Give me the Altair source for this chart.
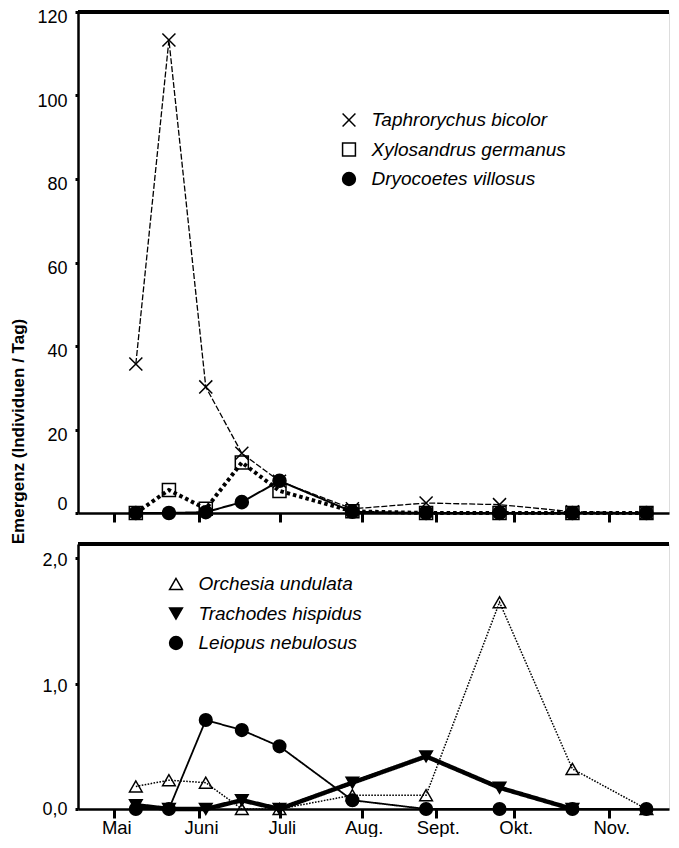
import altair as alt
import pandas as pd

# sampling dates (day of year)
days = [129.0, 141.3, 155.0, 168.4, 182.4, 209.5, 236.9, 264.2, 291.3, 318.8]

# top panel
top_series = ["Taphrorychus bicolor", "Xylosandrus germanus", "Dryocoetes villosus"]
taphrorychus = [35.7, 113.3, 30.2, 14.3, 7.6, 1.0, 2.4, 2.0, 0.3, 0.0]
xylosandrus = [0.0, 5.5, 1.0, 12.1, 5.3, 0.4, 0.0, 0.0, 0.0, 0.0]
dryocoetes = [0.0, 0.0, 0.2, 2.6, 7.7, 0.3, 0.0, 0.0, 0.0, 0.0]

# bottom panel
bottom_series = ["Orchesia undulata", "Trachodes hispidus", "Leiopus nebulosus"]
orchesia = [0.18, 0.23, 0.21, 0.0, 0.0, 0.11, 0.11, 1.65, 0.32, 0.0]
trachodes = [0.03, 0.0, 0.0, 0.07, 0.0, 0.21, 0.42, 0.17, 0.0, None]
leiopus = [0.0, 0.0, 0.71, 0.63, 0.50, 0.07, 0.0, 0.0, 0.0, 0.0]

# month axis
month_ticks = [121, 152.5, 182.5, 213, 240.5, 269.5, 305]
month_labels = ["Mai", "Juni", "Juli", "Aug.", "Sept.", "Okt.", "Nov."]

FONT = "Liberation Sans"
XPATH = "M-1,-1L1,1M-1,1L1,-1"
W = 591
H1 = 501
H2 = 265

def long(series_names, arrays):
    rows = []
    for name, arr in zip(series_names, arrays):
        for d, v in zip(days, arr):
            rows.append({"day": d, "value": v, "series": name})
    return pd.DataFrame(rows)

df_top = long(top_series, [taphrorychus, xylosandrus, dryocoetes])
df_bot = long(bottom_series, [orchesia, trachodes, leiopus])

label_map = "{" + ",".join(f"'{t}':'{l}'" for t, l in zip(month_ticks, month_labels)) + "}"
label_expr = f"{label_map}[toString(datum.value)]"
x_scale = alt.Scale(domain=[107.5, 327.2], nice=False, zero=False)

def x_enc(show_labels):
    return alt.X("day:Q", scale=x_scale,
                 axis=alt.Axis(values=month_ticks, labels=show_labels, labelExpr=label_expr,
                               title=None, grid=False, tickSize=9, tickWidth=3,
                               domainWidth=2.5, domainColor="black", tickColor="black",
                               labelFont=FONT, labelFontSize=18.5, labelColor="black",
                               labelPadding=0, labelOffset=2, labelFlush=False))

def legend(x, y):
    return alt.Legend(orient="none", legendX=x, legendY=y, title=None, padding=0,
                      labelFont=FONT, labelFontSize=19, labelFontStyle="italic", labelLimit=400,
                      labelColor="black", labelOffset=13, rowPadding=9.5,
                      symbolSize=165, symbolStrokeColor="black", symbolStrokeWidth=1.5)

def line_layer(df, name, dash, width):
    return alt.Chart(df).transform_filter(alt.datum.series == name).mark_line(
        color="black", strokeDash=dash, strokeWidth=width).encode(
        x=alt.X("day:Q", scale=x_scale), y=alt.Y("value:Q"))

# ---------------- top ----------------
top_leg = legend(261.5, 98.5)
top_points = alt.Chart(df_top).mark_point(filled=True, opacity=1, stroke="black", strokeWidth=1.5, size=170).encode(
    x=x_enc(False),
    y=alt.Y("value:Q", scale=alt.Scale(domain=[0, 120], nice=False),
            axis=alt.Axis(values=[0, 20, 40, 60, 80, 100, 120], format="d", grid=False, labelFlush=False,
                          title="Emergenz (Individuen / Tag)", titleX=-60, titleY=419,
                          titleAngle=270, titleAlign="center", titleBaseline="middle",
                          titleFont=FONT, titleFontSize=17, titleFontWeight="bold", titleColor="black",
                          tickSize=3, tickWidth=3, domainWidth=2.5, domainColor="black", tickColor="black",
                          labelFont=FONT, labelFontSize=18, labelColor="black", labelPadding=8,
                          labelOffset={"condition": {"test": "datum.value === 0", "value": -8.5}, "value": 5.5})),
    shape=alt.Shape("series:N", scale=alt.Scale(domain=top_series, range=[XPATH, "square", "circle"]), legend=top_leg),
    color=alt.Color("series:N", scale=alt.Scale(domain=top_series, range=["transparent", "transparent", "black"]), legend=top_leg),
)
top_frame = alt.Chart(df_top).mark_rule(color="black", strokeWidth=2.5).encode(
    x=alt.value(0), x2=alt.value(W), y=alt.value(0))
top = alt.layer(
    line_layer(df_top, top_series[0], [6, 2], 1.3),
    line_layer(df_top, top_series[1], [3.5, 3], 4),
    line_layer(df_top, top_series[2], [1, 0], 2),
    top_points, top_frame,
).properties(width=W, height=H1)

# ---------------- bottom ----------------
bot_leg = legend(88.5, 30.5)
bot_points = alt.Chart(df_bot).mark_point(filled=True, opacity=1, stroke="black", strokeWidth=1.5, size=160).encode(
    x=x_enc(True),
    y=alt.Y("value:Q", scale=alt.Scale(domain=[0, 2.115], nice=False),
            axis=alt.Axis(values=[0, 1, 2], labelExpr="replace(format(datum.value, '.1f'), '.', ',')",
                          grid=False, title=None, labelFlush=False,
                          tickSize=3, tickWidth=3, domainWidth=2.5, domainColor="black", tickColor="black",
                          labelFont=FONT, labelFontSize=18, labelColor="black", labelPadding=8,
                          labelOffset={"condition": {"test": "datum.value === 0", "value": 0}, "value": 2.5})),
    shape=alt.Shape("series:N", scale=alt.Scale(domain=bottom_series, range=["triangle-up", "triangle-down", "circle"]), legend=bot_leg),
    color=alt.Color("series:N", scale=alt.Scale(domain=bottom_series, range=["transparent", "black", "black"]), legend=bot_leg),
)
bot_frame = alt.Chart(df_bot).mark_rule(color="black", strokeWidth=2.5).encode(
    x=alt.value(0), x2=alt.value(W), y=alt.value(0))
bottom = alt.layer(
    line_layer(df_bot, bottom_series[0], [1.6, 1.4], 1.5),
    line_layer(df_bot, bottom_series[1], [1, 0], 4.5),
    line_layer(df_bot, bottom_series[2], [1, 0], 1.8),
    bot_points, bot_frame,
).properties(width=W, height=H2)

chart = alt.vconcat(top, bottom, spacing=31, bounds="flush").properties(
    padding={"left": 0, "top": 0, "right": 0, "bottom": 0}
).resolve_scale(shape="independent", color="independent"
).configure_view(stroke=None).configure(font=FONT)

chart.save("out.html", embed_options={"renderer": "svg", "actions": False})
